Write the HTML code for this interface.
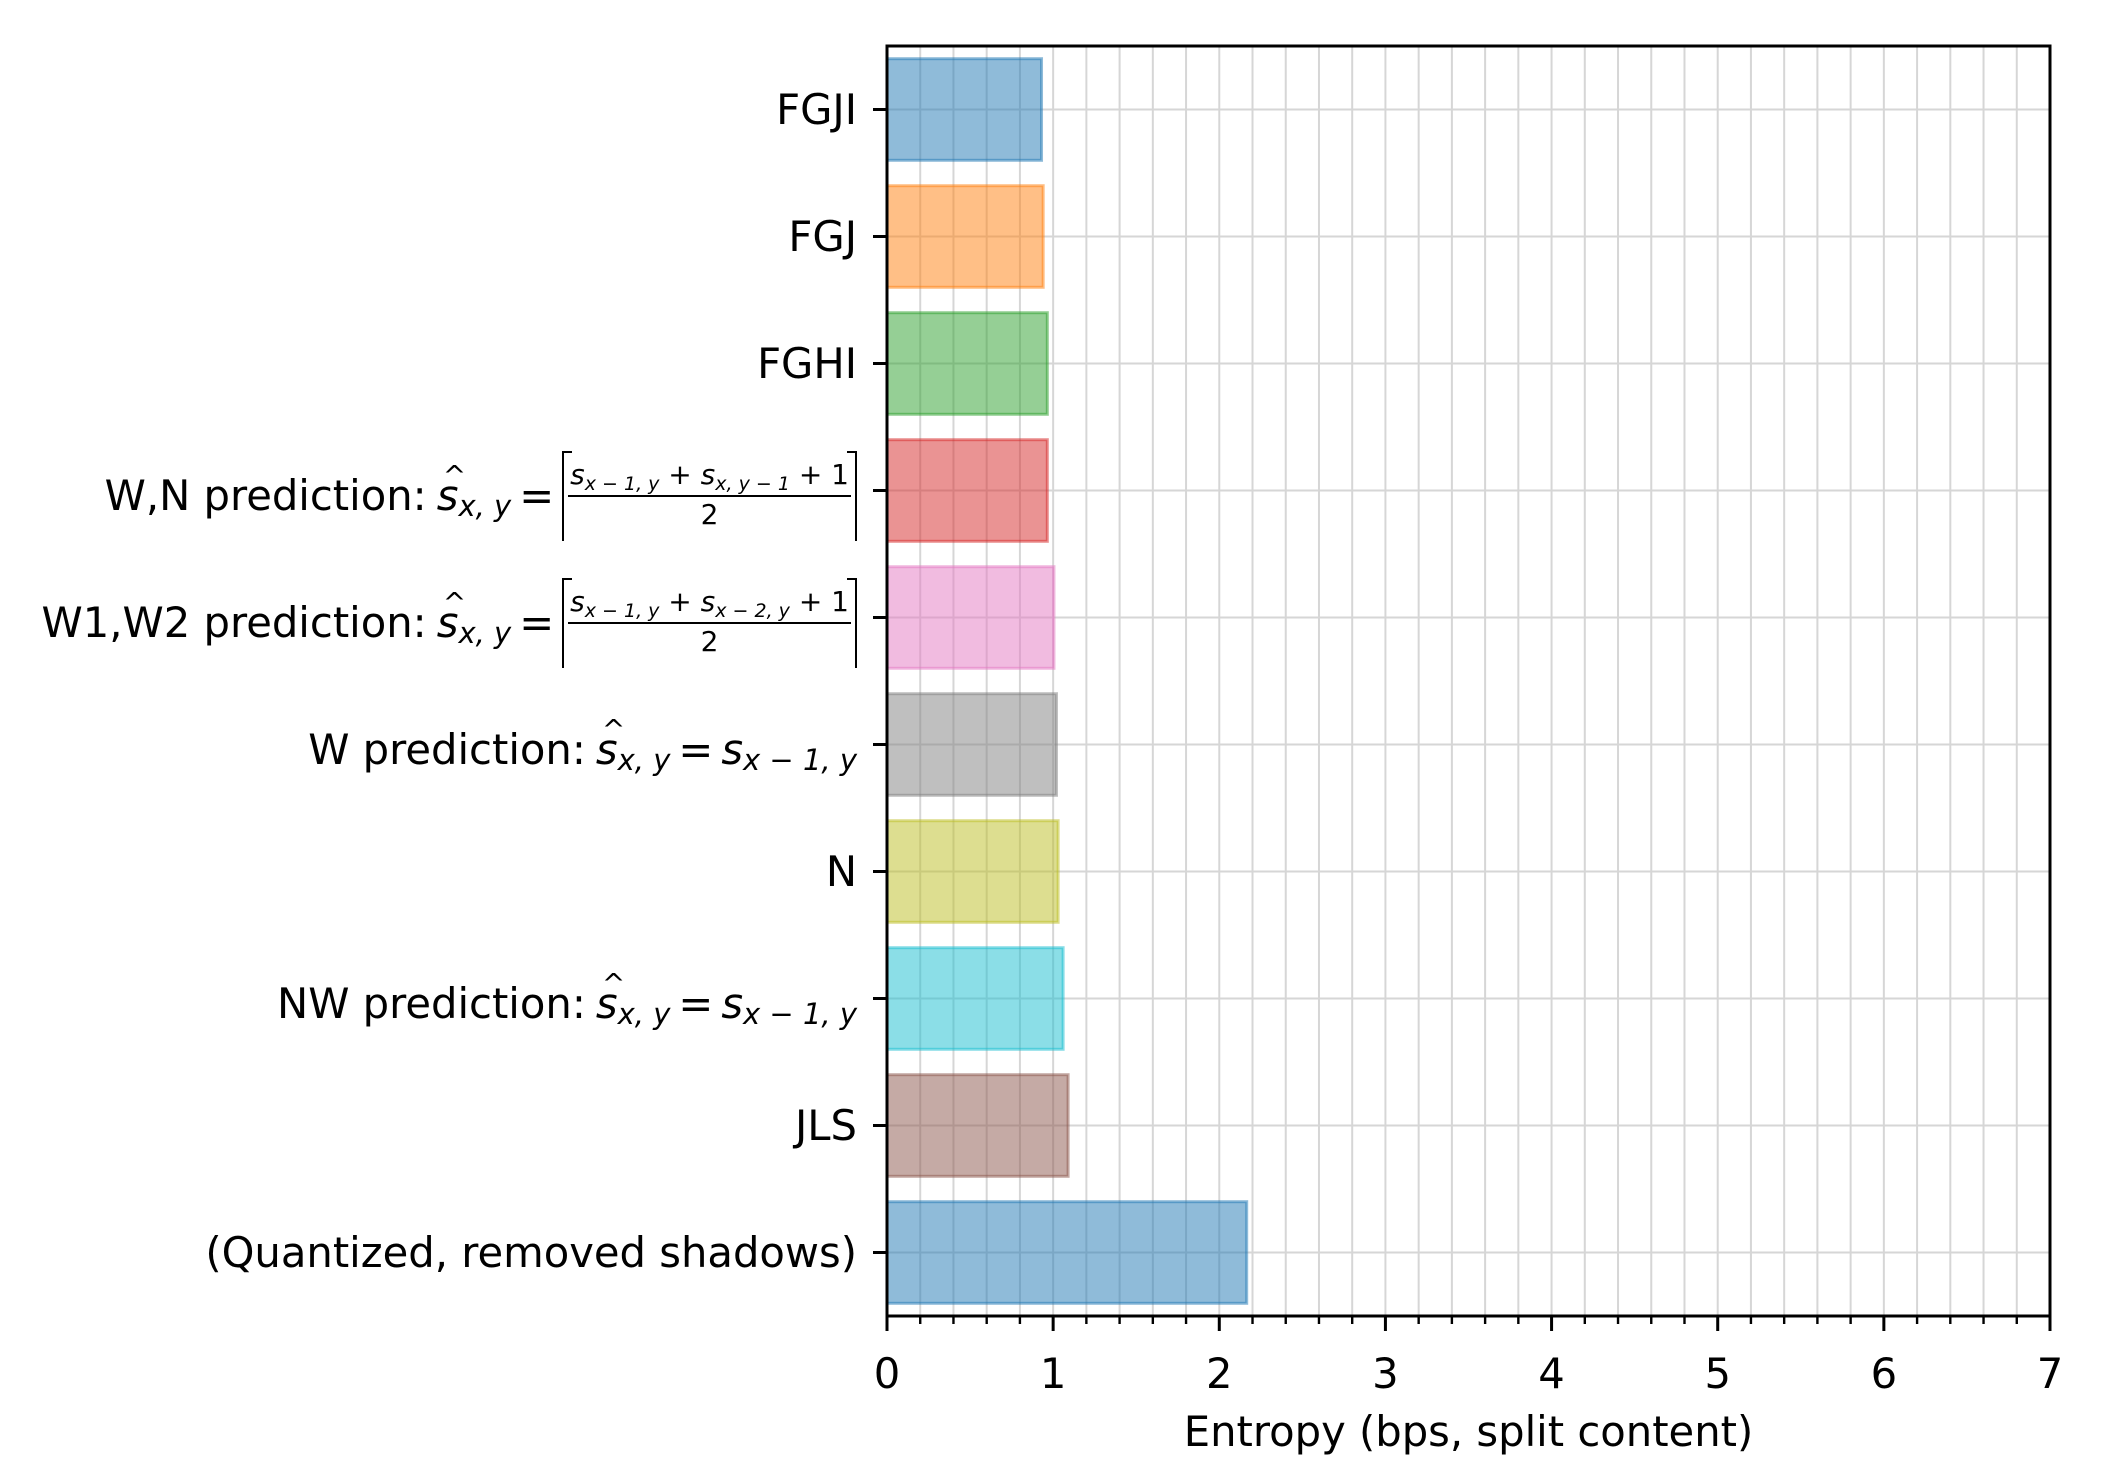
<!DOCTYPE html>
<html><head><meta charset="utf-8">
<style>
html,body{margin:0;padding:0;background:#fff;}
#wrap{position:relative;width:2112px;height:1476px;overflow:hidden;font-family:"DejaVu Sans","Liberation Sans",sans-serif;}
svg{position:absolute;left:0;top:0;}
.lab{position:absolute;right:1255px;height:0;display:flex;align-items:center;justify-content:flex-end;white-space:nowrap;font-size:41.7px;color:#000;}
.lab .in{display:flex;align-items:center;}
.lab .in.mt{position:relative;top:5px;}
.m{font-family:"DejaVu Sans",sans-serif;font-style:oblique;}
.sub{font-size:29px;position:relative;top:10px;font-style:oblique;}
.hat{position:relative;display:inline-block;margin-left:10px;}
.hat::before{content:"^";position:absolute;left:6px;top:-12px;font-style:normal;font-size:28px;}
.eq{margin:0 8px;font-style:normal;}
.ceil{display:inline-flex;align-items:center;border-left:2px solid #000;border-right:2px solid #000;height:90px;position:relative;padding:0 4px;}
.ceil::before{content:"";position:absolute;left:0;top:0;width:8px;border-top:2px solid #000;}
.ceil::after{content:"";position:absolute;right:0;top:0;width:8px;border-top:2px solid #000;}
.frac{display:inline-flex;flex-direction:column;align-items:center;font-size:28px;}
.frac .num{border-bottom:2px solid #000;padding:0 2px 4px;}
.frac .num .s2{font-size:19px;position:relative;top:6px;font-style:oblique;}
.frac .den{font-size:28px;line-height:36px;}
</style></head>
<body>
<div id="wrap">
<svg id="chart" width="2112" height="1476"></svg>
</div>
<script>
const categories = ["FGJI","FGJ","FGHI","W,N","W1,W2","W","N","NW","JLS","(Quantized, removed shadows)"];
const entropyValues = [0.93, 0.94, 0.965, 0.965, 1.005, 1.02, 1.03, 1.06, 1.09, 2.165];
const barColors = ["#1f77b4","#ff7f0e","#2ca02c","#d62728","#e377c2","#7f7f7f","#bcbd22","#17becf","#8c564b","#1f77b4"];
const xTickLabels = ["0","1","2","3","4","5","6","7"];
const xMin = 0, xMax = 7;

const L=887, R=2050, T=46, B=1316;
const n = categories.length;
const xs = v => L + (v - xMin) / (xMax - xMin) * (R - L);
const unit = (B - T) / n;
const yc = i => T + (i + 0.5) * unit;
const NS = "http://www.w3.org/2000/svg";
const svg = document.getElementById('chart');
function mk(tag, attrs){const e=document.createElementNS(NS,tag);for(const k in attrs)e.setAttribute(k,attrs[k]);return e;}

const grid = mk('g',{});


svg.appendChild(grid);
for(let k=0;k<=35;k++){
  const v=k*0.2;
  const ln=mk('line',{x1:xs(v),x2:xs(v),y1:T,y2:B,stroke:'#d6d6d6','stroke-width':2});
  
  
  grid.appendChild(ln);
}
for(let i=0;i<n;i++){
  const ln=mk('line',{x1:L,x2:R,y1:yc(i),y2:yc(i),stroke:'#d6d6d6','stroke-width':2});
  
  
  grid.appendChild(ln);
}
for(let i=0;i<n;i++){
  const h=unit*0.8;
  const r=mk('rect',{x:xs(0),y:yc(i)-h/2,width:xs(entropyValues[i])-xs(0),height:h,fill:barColors[i],'fill-opacity':0.5,stroke:barColors[i],'stroke-opacity':0.5,'stroke-width':3});
  
  
  svg.appendChild(r);
}
const sp=mk('rect',{x:L,y:T,width:R-L,height:B-T,fill:'none',stroke:'#000','stroke-width':3});


svg.appendChild(sp);
for(let k=0;k<=35;k++){
  const v=k*0.2, major=(k%5===0);
  const t=mk('line',{x1:xs(v),x2:xs(v),y1:B,y2:B+(major?15:8),stroke:'#000','stroke-width':major?3:2.4});
  
  
  svg.appendChild(t);
}
xTickLabels.forEach((s,k)=>{
  const tx=mk('text',{x:xs(+s),y:1388,'text-anchor':'middle','font-size':41.7,'font-family':'DejaVu Sans, Liberation Sans, sans-serif'});
  tx.textContent=s;
  
  
  svg.appendChild(tx);
});
const xl=mk('text',{x:(L+R)/2,y:1446,'text-anchor':'middle','font-size':41.7,'font-family':'DejaVu Sans, Liberation Sans, sans-serif'});
xl.textContent='Entropy (bps, split content)';


svg.appendChild(xl);
for(let i=0;i<n;i++){
  const t=mk('line',{x1:L-14,x2:L,y1:yc(i),y2:yc(i),stroke:'#000','stroke-width':3});
  
  
  svg.appendChild(t);
}
const shat='<span class="m hat">s</span><span class="sub">x, y</span>';
const sw='<span class="m">s</span><span class="sub">x − 1, y</span>';
const labelHTML=[
 'FGJI','FGJ','FGHI',
 'W,N prediction:'+shat+'<span class="eq">=</span><span class="ceil"><span class="frac"><span class="num"><span class="m">s</span><span class="s2">x − 1, y</span> + <span class="m">s</span><span class="s2">x, y − 1</span> + 1</span><span class="den">2</span></span></span>',
 'W1,W2 prediction:'+shat+'<span class="eq">=</span><span class="ceil"><span class="frac"><span class="num"><span class="m">s</span><span class="s2">x − 1, y</span> + <span class="m">s</span><span class="s2">x − 2, y</span> + 1</span><span class="den">2</span></span></span>',
 'W prediction:'+shat+'<span class="eq">=</span>'+sw,
 'N',
 'NW prediction:'+shat+'<span class="eq">=</span>'+sw,
 'JLS',
 '(Quantized, removed shadows)'
];
const wrap=document.getElementById('wrap');
labelHTML.forEach((h,i)=>{
  const d=document.createElement('div');
  d.className='lab';
  d.style.top=yc(i)+'px';
  const cls = h.indexOf('prediction')>=0 ? 'in mt' : 'in';
  d.innerHTML='<span class="'+cls+'">'+h+'</span>';
  
  
  wrap.appendChild(d);
});
</script>
</body></html>
